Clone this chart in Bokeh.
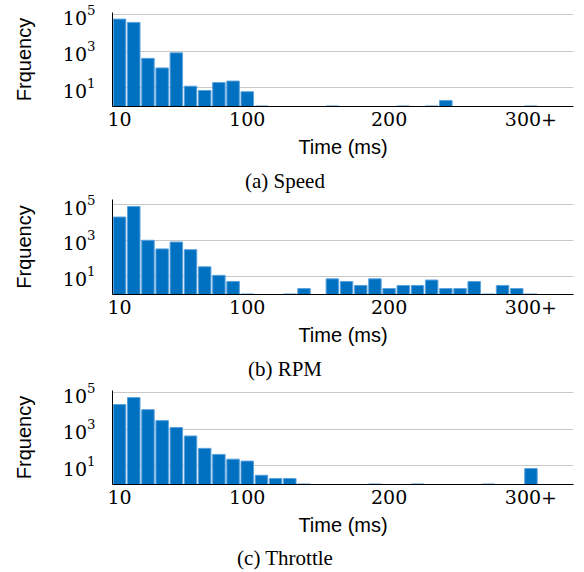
from bokeh.plotting import figure
from bokeh.models import FixedTicker, Div, ColumnDataSource
from bokeh.layouts import column
from bokeh.embed import file_html
from bokeh.resources import INLINE

# ---- data -------------------------------------------------------------
bins = [10, 20, 30, 40, 50, 60, 70, 80, 90, 100,
        110, 120, 130, 140, 150, 160, 170, 180, 190, 200,
        210, 220, 230, 240, 250, 260, 270, 280, 290, 300]

speed = [56000, 37000, 400, 120, 800, 12, 7, 19, 23, 6,
         1, 0, 0, 0, 0, 1, 0, 0, 0, 0,
         1, 0, 1, 2, 0, 0, 0, 0, 0, 1]

rpm = [20000, 78000, 1000, 330, 800, 300, 33, 11, 5, 1,
       0, 0, 1, 2, 0, 7, 5, 3, 7, 2,
       3, 3, 6, 2, 2, 5, 1, 3, 2, 1]

throttle = [23000, 55000, 12000, 3000, 1250, 430, 90, 42, 23, 18,
            3, 2, 2, 1, 0, 0, 0, 0, 1, 0,
            0, 1, 0, 0, 0, 0, 1, 0, 0, 7]

captions = ["(a) Speed", "(b) RPM", "(c) Throttle"]
x_ticks = [10, 100, 200, 300]
x_tick_labels = ["10", "100", "200", "300+"]
y_ticks = [10, 1000, 100000]
y_label = "Frquency"
x_label = "Time (ms)"

# ---- style ------------------------------------------------------------
BAR_FILL = "#0070C0"
BAR_LINE = "#5BA3DE"
GRID = "#C8C8C8"
SERIF_TICK = "DejaVu Serif"
SANS = "Liberation Sans"
CAPTION_FONT = "Liberation Serif"

Y_START = 10 ** -0.03
y_top_exp = [5.11, 5.28, 5.13]
top_borders = [12, 5, 8]
frame_heights = [94, 95, 94]
BOTTOM = 56


def make_panel(counts, ytop_exp, top_border, frame_h):
    xs = [b for b, c in zip(bins, counts) if c > 0]
    ys = [c for c in counts if c > 0]
    src = ColumnDataSource(dict(x=xs, top=ys))
    p = figure(width=576, height=top_border + frame_h + BOTTOM,
               x_range=(5, 330), y_range=(Y_START, 10 ** ytop_exp),
               y_axis_type="log", output_backend="svg",
               toolbar_location=None,
               min_border_top=top_border, min_border_bottom=BOTTOM,
               min_border_left=112, min_border_right=3)
    p.vbar(x="x", top="top", bottom=Y_START, width=8.8, source=src,
           fill_color=BAR_FILL, line_color=BAR_LINE, line_width=1)

    p.outline_line_color = None
    p.background_fill_color = "white"
    p.border_fill_color = "white"

    p.xgrid.grid_line_color = None
    p.yaxis.ticker = FixedTicker(ticks=y_ticks)
    p.ygrid.ticker = FixedTicker(ticks=y_ticks)
    p.ygrid.grid_line_color = GRID
    p.ygrid.grid_line_width = 1

    p.xaxis.ticker = FixedTicker(ticks=x_ticks)
    p.xaxis.major_label_overrides = {t: l for t, l in zip(x_ticks, x_tick_labels)}

    for ax in (p.xaxis, p.yaxis):
        ax.axis_line_color = "black"
        ax.axis_line_width = 1
        ax.major_tick_line_color = None
        ax.minor_tick_line_color = None
        ax.major_tick_out = 0
        ax.major_tick_in = 0
        ax.minor_tick_out = 0
        ax.major_label_text_font = SERIF_TICK
        ax.major_label_text_font_size = "19px"
        ax.major_label_text_color = "black"
        ax.axis_label_text_font = SANS
        ax.axis_label_text_font_size = "20px"
        ax.axis_label_text_font_style = "normal"
        ax.axis_label_text_color = "black"

    p.yaxis.axis_label = y_label
    p.xaxis.axis_label = x_label
    p.yaxis.major_label_standoff = 17
    p.yaxis.axis_label_standoff = 25
    p.xaxis.major_label_standoff = 5
    p.xaxis.axis_label_standoff = 7
    return p


def make_caption(text, height, pad, line_h):
    return Div(text=f'<div style="padding-top:{pad}px;line-height:{line_h}px;">{text}</div>',
               width=570, height=height, margin=0,
               styles={"font-family": CAPTION_FONT, "font-size": "21px",
                       "text-align": "center", "color": "black"})


series = [speed, rpm, throttle]
items = []
cap_specs = [(32, 6, 26), (32, 6, 26), (31, 6, 25)]
for i, counts in enumerate(series):
    items.append(make_panel(counts, y_top_exp[i], top_borders[i], frame_heights[i]))
    h, pad, lh = cap_specs[i]
    items.append(make_caption(captions[i], h, pad, lh))

layout = column(*items, spacing=0)
open("out.html", "w").write(file_html(layout, INLINE))
